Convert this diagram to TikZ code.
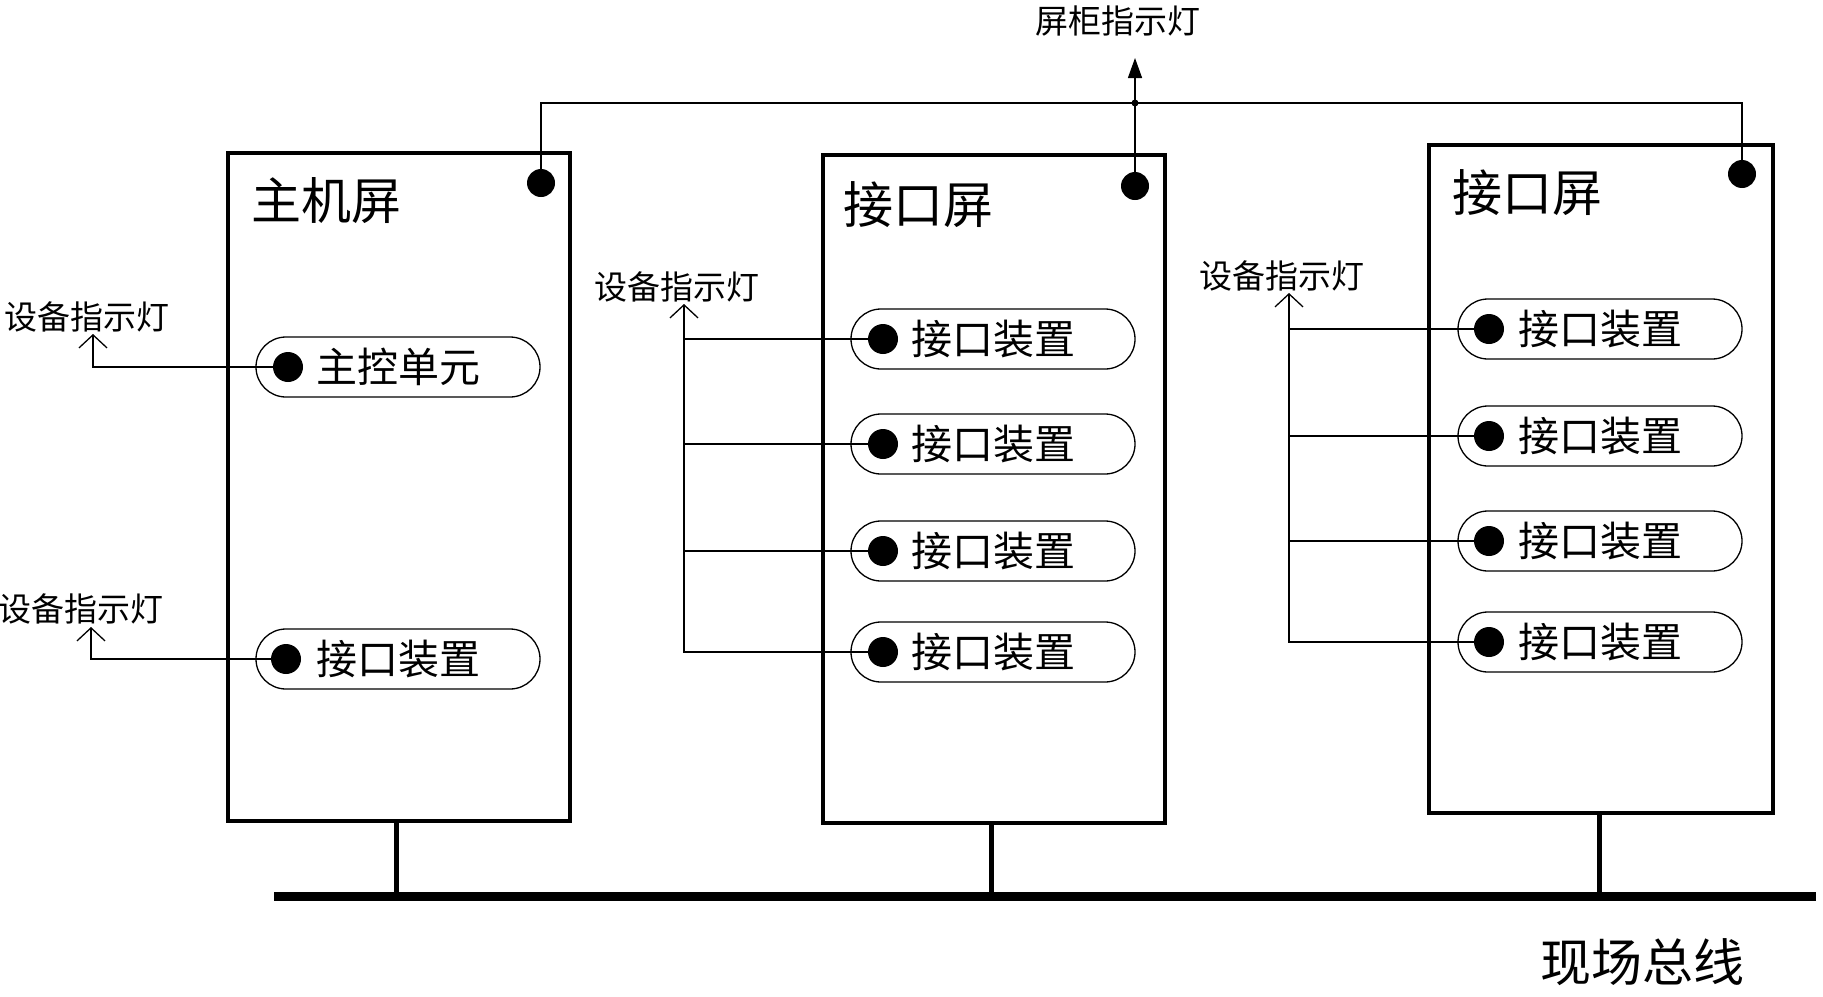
\documentclass[tikz,border=0pt]{standalone}
\usepackage{fontspec}
\setmainfont{Noto Sans CJK SC}
\usetikzlibrary{arrows.meta,shapes.misc}
\begin{document}
\begin{tikzpicture}[x=1pt,y=-1pt,
  cabinet/.style={draw,line width=4pt,minimum width=342pt,minimum height=668pt,inner sep=0pt},
  pill/.style={draw,line width=1.3pt,rounded rectangle,minimum width=284pt,minimum height=60pt,inner sep=0pt,font=\fontsize{41}{44}\selectfont},
  bigdot/.style={circle,fill=black,minimum size=28pt,inner sep=0pt},
  ttl/.style={font=\fontsize{50}{54}\selectfont,anchor=center},
  lbl/.style={font=\fontsize{33}{36}\selectfont,inner sep=2pt},
  ind/.style={line width=1.4pt,-{Straight Barb[length=13pt,width=28pt,line width=1.3pt]}},
  wire/.style={line width=1.4pt}
]
\useasboundingbox (0,0) rectangle (1823,996);
% cabinets
\node[cabinet] (b1) at (399,487) {};
\node[cabinet] (b2) at (994,489) {};
\node[cabinet,minimum width=344pt] (b3) at (1601,479) {};
\node[ttl] (h1) at (326,201) {主机屏};
\node[ttl] (h2) at (918,205) {接口屏};
\node[ttl] (h3) at (1527,193) {接口屏};
% corner dots
\node[bigdot] (c1) at (541,183) {};
\node[bigdot] (c2) at (1135,186) {};
\node[bigdot] (c3) at (1742,174) {};
% top wire
\coordinate (j) at (1135,103);
\coordinate (ttip) at (1135,58);
\draw[wire] (c1.center) |- (j) -| (c3.center);
\draw[wire,-{Triangle[length=20pt,width=14pt]}] (c2.center) -- (ttip);
\fill (j) circle (3.5pt);
\node[lbl,anchor=south] (tl) at (1118,38) {屏柜指示灯};
% host cabinet pills
\node[pill] (p11) at (398,367) {主控单元};
\node[pill] (p12) at (398,659) {接口装置};
\node[bigdot,minimum size=30pt] (d11) at (288,367) {};
\node[bigdot,minimum size=30pt] (d12) at (286,659) {};
\coordinate (t11) at (93,334);
\coordinate (t12) at (91,627);
\draw[ind] (d11.center) -| (t11);
\draw[ind] (d12.center) -| (t12);
\node[lbl,anchor=south] (l11) at (87,334) {设备指示灯};
\node[lbl,anchor=south] (l12) at (81,626) {设备指示灯};
% cabinet 2 pills
\foreach \i/\y in {1/339,2/444,3/551,4/652}{
  \node[pill] (p2\i) at (993,\y) {接口装置};
  \node[bigdot,minimum size=30pt] (d2\i) at (883,\y) {};
}
\coordinate (t2) at (684,304);
\draw[ind] (d24.center) -| (t2);
\draw[wire] (d21.center) -- (d21 -| t2);
\draw[wire] (d22.center) -- (d22 -| t2);
\draw[wire] (d23.center) -- (d23 -| t2);
\node[lbl,anchor=south] (l2) at (677,304) {设备指示灯};
% cabinet 3 pills
\foreach \i/\y in {1/329,2/436,3/541,4/642}{
  \node[pill] (p3\i) at (1600,\y) {接口装置};
  \node[bigdot,minimum size=30pt] (d3\i) at (1489,\y) {};
}
\coordinate (t3) at (1289,293);
\draw[ind] (d34.center) -| (t3);
\draw[wire] (d31.center) -- (d31 -| t3);
\draw[wire] (d32.center) -- (d32 -| t3);
\draw[wire] (d33.center) -- (d33 -| t3);
\node[lbl,anchor=south] (l3) at (1282,293) {设备指示灯};
% field bus
\coordinate (busL) at (274,896);
\coordinate (busR) at (1816,896);
\draw[line width=9pt] (busL) -- (busR);
\draw[line width=5pt] (396,821) -- (396,896);
\draw[line width=5pt] (991,823) -- (991,896);
\draw[line width=5pt] (1599,813) -- (1599,896);
\node[font=\fontsize{51}{54}\selectfont] (bus) at (1642,962) {现场总线};
\end{tikzpicture}
\end{document}
